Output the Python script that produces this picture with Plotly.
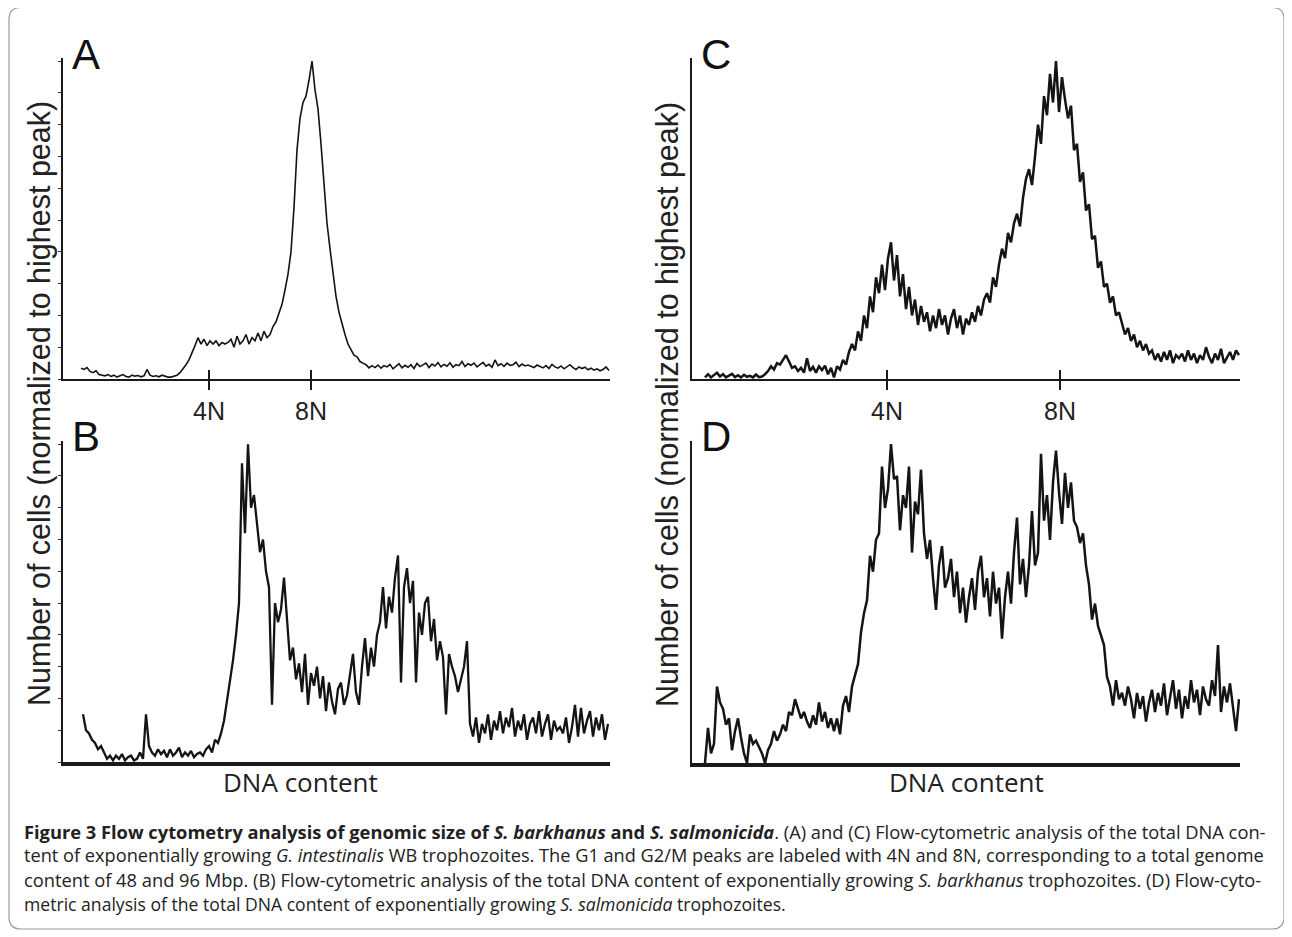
import plotly.graph_objects as go

# the page has an 8px body margin, so the figure is offset by 8px
OFF = 8
W, H = 1292 - OFF, 937 - OFF

# ---------------- data (DNA content channel, % of highest peak) ----------------
# Panel A: G. intestinalis WB, bins every 3 channels starting at channel 18
A_start, A_step = 18, 3
A_vals = [
    3.4, 3.0, 3.6, 2.4, 2.0, 2.6, 1.4, 1.2, 1.0, 1.4,
    0.8, 1.2, 0.6, 1.0, 1.4, 0.8, 0.6, 1.2, 0.9, 1.1,
    0.7, 1.0, 3.0, 1.2, 0.8, 1.0, 0.7, 1.2, 0.8, 0.6,
    0.6, 0.8, 1.2, 2.0, 3.2, 4.5, 6.0, 8.0, 10.5, 13.0,
    11.0, 12.5, 10.5, 12.0, 11.0, 12.0, 10.5, 11.5, 11.0, 11.5,
    12.5, 10.0, 13.5, 11.0, 12.0, 14.0, 11.0, 13.0, 12.0, 14.5,
    12.0, 15.0, 13.0, 14.0, 16.5, 18.0, 21.0, 23.5, 28.0, 33.0,
    40.0, 54.0, 72.0, 82.0, 87.0, 89.0, 94.0, 100.0, 91.0, 85.0,
    74.0, 60.0, 49.0, 41.0, 34.0, 26.0, 21.0, 17.0, 14.0, 11.0,
    9.0, 7.5, 7.0, 5.5, 5.0, 4.5, 3.5, 4.2, 3.6, 4.4,
    3.4, 4.2, 3.8, 4.6, 3.2, 4.0, 4.8, 3.5, 4.3, 3.7,
    4.5, 3.3, 4.9, 3.9, 4.4, 5.0, 3.6, 4.7, 4.1, 5.2,
    3.8, 4.6, 4.0, 5.1, 3.7, 4.5, 4.2, 5.5, 3.9, 4.8,
    4.3, 5.0, 3.8, 4.4, 5.2, 4.0, 4.6, 3.7, 6.0, 4.2,
    4.8, 4.0, 5.0, 4.3, 4.5, 5.3, 3.9, 4.7, 4.1, 4.4,
    4.0, 3.6, 4.4, 3.9, 3.5, 4.2, 3.3, 4.6, 3.8, 3.4,
    4.1, 3.2, 3.9, 4.5, 3.6, 3.0, 3.8, 3.3, 3.7, 2.9,
    3.4, 2.8, 3.2, 2.6, 3.0, 3.8, 2.7,
]

# Panel B: S. barkhanus, bins every 3 channels starting at channel 20
B_start, B_step = 20, 3
B_vals = [
    15, 10, 9, 7, 6, 4, 5, 3, 1, 2,
    0.5, 2, 1, 2.5, 0.5, 1.5, 2, 0.5, 1, 3,
    1, 15, 5, 3, 2, 4, 2.5, 3.5, 1.5, 4,
    2, 3, 4.5, 1.5, 3, 2, 3.5, 1.5, 2.5, 3,
    2, 4, 5, 3, 7, 6, 9, 13, 19, 26,
    32, 40, 50, 94, 72, 100, 80, 84, 74, 66,
    70, 60, 55, 18, 50, 44, 48, 58, 45, 32,
    36, 26, 31, 22, 34, 18, 28, 24, 30, 20,
    27, 16, 25, 19, 15, 23, 25, 18, 21, 28,
    34, 22, 18, 30, 39, 27, 36, 30, 40, 44,
    55, 42, 52, 47, 58, 65, 25, 55, 61, 50,
    57, 25, 47, 40, 50, 52, 38, 45, 32, 38,
    33, 15, 34, 30, 27, 22, 26, 30, 38, 12,
    8, 14, 6, 12, 9, 15, 7, 13, 10, 16,
    9, 14, 11, 17, 8, 13, 10, 15, 7, 12,
    14, 9, 16, 8, 12, 15, 7, 13, 10, 11,
    9, 14, 6, 11, 18, 8, 17, 9, 13, 16,
    8, 14, 10, 15, 7, 12,
]

# Panel C: G. intestinalis WB, bins every 3 channels starting at channel 13
C_start, C_step = 13, 3
C_vals = [
    0.5, 1.5, 0.5, 1.2, 2.0, 0.8, 1.5, 0.5, 1.0, 1.6,
    0.6, 1.2, 0.5, 1.3, 0.7, 1.0, 0.5, 1.4, 0.6, 0.8,
    1.5, 2.5, 4.0, 3.0, 5.0, 4.5, 6.0, 7.5, 5.5, 3.5,
    4.0, 2.5, 3.5, 2.0, 6.5, 2.5, 3.8, 2.0, 4.0, 2.8,
    4.2, 1.5, 3.5, 0.5, 4.0, 3.0, 6.0, 4.5, 8.5, 11.0,
    9, 15, 12, 20, 16, 26, 21, 32, 27, 36,
    28, 38, 43, 31, 39, 26, 33, 22, 29, 20,
    25, 17, 23, 18, 21, 15, 20, 16, 22, 17,
    20, 14, 19, 22, 16, 20, 14, 19, 17, 21,
    18, 23, 20, 25, 27, 24, 32, 29, 36, 41,
    38, 46, 43, 49, 52, 48, 57, 63, 66, 61,
    70, 80, 74, 89, 83, 96, 87, 100, 84, 95,
    88, 82, 86, 72, 74, 62, 65, 53, 55, 44,
    45, 35, 37, 29, 30, 24, 26, 20, 21, 17,
    14, 16, 12, 14, 10, 12, 9, 11, 8, 9,
    6, 8, 5.5, 8.5, 6, 9, 5, 7.5, 6.5, 8,
    5.5, 9, 6, 8, 5, 7.5, 6, 10, 7, 5,
    8, 6, 9.5, 5, 7, 8.5, 6, 9, 7.5,
]

# Panel D: S. salmonicida, bins every 3 channels starting at channel 13
D_start, D_step = 13, 3
D_vals = [
    0, 11, 3, 6, 24, 19, 17, 12, 14, 4,
    10, 14, 8, 3, 0, 9, 6, 7, 5, 3,
    0, 4, 6, 10, 7, 9, 12, 10, 16, 15,
    20, 17, 14, 16, 13, 11, 15, 12, 19, 13,
    16, 11, 14, 10, 14, 9, 18, 21, 16, 24,
    28, 31, 41, 47, 51, 65, 60, 70, 72, 93,
    80, 86, 100, 89, 90, 73, 84, 80, 93, 66,
    82, 78, 92, 72, 64, 70, 58, 48, 62, 68,
    55, 58, 64, 52, 60, 47, 55, 44, 52, 58,
    48, 60, 65, 52, 58, 46, 60, 50, 55, 39,
    52, 60, 50, 66, 77, 56, 64, 52, 62, 79,
    62, 66, 97, 76, 84, 70, 88, 98, 85, 75,
    91, 80, 88, 76, 74, 69, 72, 62, 56, 45,
    50, 43, 40, 37, 27, 24, 18, 26, 20, 22,
    18, 24, 20, 14, 22, 17, 21, 13, 19, 23,
    16, 22, 18, 25, 15, 20, 26, 17, 23, 14,
    21, 17, 26, 19, 23, 15, 24, 20, 18, 26,
    21, 37, 16, 24, 19, 25, 18, 10, 20,
]

# Ploidy tick marks (channel positions) for the G. intestinalis control panels
A_ticks = [146, 248]
C_ticks = [195, 368]
tick_text = ["4N", "8N"]


def chan(start, step, vals):
    return [start + step * i for i in range(len(vals))]


def px_x(p):
    return (p - OFF) / W


def px_y(p):
    return 1 - (p - OFF) / H


fig = go.Figure()

panels = [
    ("x", "y", (A_start, A_step, A_vals), 1.6),
    ("x2", "y2", (B_start, B_step, B_vals), 2.3),
    ("x3", "y3", (C_start, C_step, C_vals), 2.5),
    ("x4", "y4", (D_start, D_step, D_vals), 2.5),
]
for xa, ya, (st, sp, vals), lw in panels:
    fig.add_trace(go.Scatter(
        x=chan(st, sp, vals), y=vals, xaxis=xa, yaxis=ya, mode="lines",
        line=dict(color="#141414", width=lw), showlegend=False, hoverinfo="skip"))

common_x = dict(showgrid=False, zeroline=False, showline=True, linecolor="#1a1a1a",
                fixedrange=True)
common_y = dict(showgrid=False, zeroline=False, showline=True, linecolor="#1a1a1a",
                showticklabels=False, range=[0, 101], fixedrange=True)
tickfont = dict(family="Liberation Sans, Arial", size=25, color="#222")

fig.update_layout(
    width=W, height=H, margin=dict(l=0, r=0, t=0, b=0),
    paper_bgcolor="white", plot_bgcolor="rgba(0,0,0,0)",
    xaxis=dict(domain=[px_x(63), px_x(610)], range=[0, 547], anchor="y",
               ticks="outside", ticklen=9, tickwidth=2, tickcolor="#1a1a1a",
               tickvals=A_ticks, ticktext=tick_text, tickfont=tickfont,
               linewidth=2, **common_x),
    yaxis=dict(domain=[px_y(379), px_y(58)], anchor="x", ticks="outside", ticklen=3,
               tickwidth=1, tickcolor="#333", tick0=0, dtick=10, linewidth=1.5,
               **common_y),
    xaxis2=dict(domain=[px_x(63), px_x(610)], range=[0, 547], anchor="y2",
                showticklabels=False, ticks="", linewidth=3.5, **common_x),
    yaxis2=dict(domain=[px_y(762), px_y(441)], anchor="x2", ticks="outside", ticklen=3,
                tickwidth=1, tickcolor="#333", tick0=0, dtick=10, linewidth=1.5,
                **common_y),
    xaxis3=dict(domain=[px_x(692), px_x(1240)], range=[0, 548], anchor="y3",
                ticks="outside", ticklen=9, tickwidth=2, tickcolor="#1a1a1a",
                tickvals=C_ticks, ticktext=tick_text, tickfont=tickfont,
                linewidth=2, **common_x),
    yaxis3=dict(domain=[px_y(379), px_y(58)], anchor="x3", ticks="", linewidth=2,
                **common_y),
    xaxis4=dict(domain=[px_x(692), px_x(1240)], range=[0, 548], anchor="y4",
                showticklabels=False, ticks="", linewidth=3.5, **common_x),
    yaxis4=dict(domain=[px_y(763), px_y(441)], anchor="x4", ticks="", linewidth=2,
                **common_y),
)

# upper half of the crossing 4N / 8N tick marks
shapes = []
for xa, ya, tv in (("x", "y", A_ticks), ("x3", "y3", C_ticks)):
    for t in tv:
        shapes.append(dict(type="line", xref=xa, yref=f"{ya} domain", x0=t, x1=t,
                           y0=0, y1=0.028, line=dict(color="#1a1a1a", width=2)))

# rounded outer frame
x0, y0, x1, y1, r = px_x(9), px_y(7.5), px_x(1284), px_y(929), 12
rx, ry = r / W, r / H
path = (f"M {x0+rx},{y0} L {x1-rx},{y0} Q {x1},{y0} {x1},{y0-ry} "
        f"L {x1},{y1+ry} Q {x1},{y1} {x1-rx},{y1} L {x0+rx},{y1} "
        f"Q {x0},{y1} {x0},{y1+ry} L {x0},{y0-ry} Q {x0},{y0} {x0+rx},{y0} Z")
shapes.append(dict(type="path", xref="paper", yref="paper", path=path,
                   line=dict(color="#9a9a9a", width=1.2)))
fig.update_layout(shapes=shapes)

ann = []
for letter, cx, cy in (("A", 86, 54), ("B", 86, 436), ("C", 716, 54), ("D", 716, 436)):
    ann.append(dict(text=letter, x=px_x(cx), y=px_y(cy), xref="paper", yref="paper",
                    xanchor="center", yanchor="middle", showarrow=False,
                    font=dict(family="Liberation Sans, Arial", size=42, color="#111")))
ytitle = "Number of cells (normalized to highest peak)"
for cx in (40, 668):
    ann.append(dict(text=ytitle, x=px_x(cx), y=px_y(404), xref="paper", yref="paper",
                    xanchor="center", yanchor="middle", textangle=-90, showarrow=False,
                    font=dict(family="Liberation Sans, Arial", size=30.5, color="#222")))
for cx in (300, 966):
    ann.append(dict(text="DNA content", x=px_x(cx), y=px_y(782), xref="paper",
                    yref="paper", xanchor="center", yanchor="middle", showarrow=False,
                    font=dict(family="Open Sans", size=26, color="#222")))

caption = [
    "<b>Figure 3 Flow cytometry analysis of genomic size of <i>S. barkhanus</i> and "
    "<i>S. salmonicida</i></b>. (A) and (C) Flow-cytometric analysis of the total DNA con-",
    "tent of exponentially growing <i>G. intestinalis</i> WB trophozoites. The G1 and G2/M "
    "peaks are labeled with 4N and 8N, corresponding to a total genome",
    "content of 48 and 96 Mbp. (B) Flow-cytometric analysis of the total DNA content of "
    "exponentially growing <i>S. barkhanus</i> trophozoites. (D) Flow-cyto-",
    "metric analysis of the total DNA content of exponentially growing "
    "<i>S. salmonicida</i> trophozoites.",
]
cap_sizes = [18.3, 18.2, 18.3, 17.6]
for i, line in enumerate(caption):
    ann.append(dict(text=line, x=px_x(22), y=px_y(831 + 24.3 * i), xref="paper",
                    yref="paper", xanchor="left", yanchor="middle", showarrow=False,
                    font=dict(family="Open Sans", size=cap_sizes[i], color="#222")))
fig.update_layout(annotations=ann)

fig.write_html("out.html")
